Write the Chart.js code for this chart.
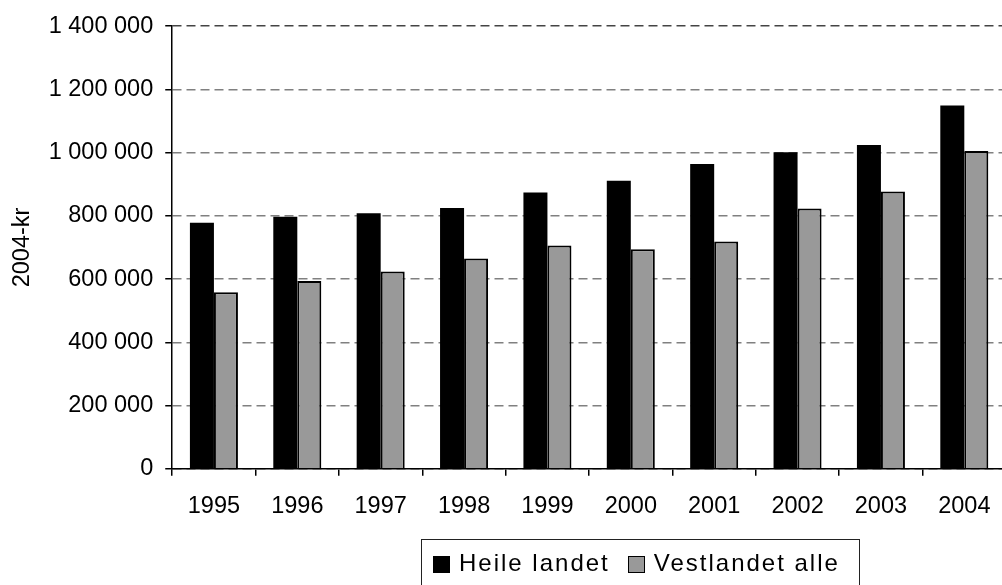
<!DOCTYPE html>
<html lang="no">
<head>
<meta charset="UTF-8">
<title>2004-kr</title>
<script src="https://cdn.jsdelivr.net/npm/chart.js"></script>
<style>
    body {
        margin: 0;
        background: #ffffff;
        overflow: hidden;
        font-family: "Liberation Sans", Arial, sans-serif;
    }
    .wrap {
        position: relative;
        width: 1002px;
        height: 585px;
        overflow: hidden;
    }
    #legend {
        position: absolute;
        left: 421px;
        top: 539px;
        width: 439px;
        height: 60px;
        border: 1px solid #222;
        box-sizing: border-box;
        display: flex;
        align-items: flex-start;
        padding: 9px 0 0 11px;
        font-size: 24px;
        letter-spacing: 2px;
        white-space: nowrap;
        color: #000;
    }
    .item {
        display: flex;
        align-items: center;
        flex-shrink: 0;
        margin-right: 18px;
    }
    .swatch {
        width: 17px;
        height: 17px;
        box-sizing: border-box;
        border: 1.5px solid #000;
        margin-right: 9px;
        margin-top: 2px;
    }
</style>
</head>
<body>
<div class="wrap">
    <canvas id="chart" width="1010" height="585"></canvas>
    <div id="legend"></div>
</div>

<script>
    const years = ['1995', '1996', '1997', '1998', '1999', '2000', '2001', '2002', '2003', '2004'];
    const heileLandet = [778000, 797000, 808000, 825000, 874000, 911000, 964000, 1001000, 1024000, 1149000];
    const vestlandetAlle = [558000, 594000, 624000, 665000, 706000, 694000, 719000, 823000, 877000, 1005000];
    const seriesNames = ['Heile landet', 'Vestlandet alle'];
    const seriesColors = ['#000000', '#999999'];
    const yTicks = [0, 200000, 400000, 600000, 800000, 1000000, 1200000, 1400000];

    const fmt = v => String(v).replace(/\B(?=(\d{3})+(?!\d))/g, ' ');
    const font = { family: '"Liberation Sans", Arial, sans-serif', size: 23.5 };

    const ctx = document.getElementById('chart').getContext('2d');
    const chart = new Chart(ctx, {
        type: 'bar',
        data: {
            labels: years,
            datasets: [heileLandet, vestlandetAlle].map((vals, i) => ({
                label: seriesNames[i],
                data: vals,
                backgroundColor: seriesColors[i],
                borderColor: '#000000',
                borderWidth: i === 0 ? 0 : 2,
                categoryPercentage: 0.576,
                barPercentage: 1
            }))
        },
        options: {
            responsive: false,
            animation: false,
            layout: { padding: { left: 8, right: 4, top: 24, bottom: 47 } },
            plugins: {
                legend: { display: false },
                tooltip: { enabled: false }
            },
            scales: {
                x: {
                    grid: {
                        offset: true,
                        drawOnChartArea: false,
                        drawTicks: true,
                        tickLength: 7,
                        tickColor: '#000000',
                        lineWidth: 1.5
                    },
                    border: { color: '#000000', width: 1.5 },
                    ticks: { color: '#000000', font: font, padding: 17, maxRotation: 0 }
                },
                y: {
                    min: 0,
                    max: yTicks[yTicks.length - 1],
                    afterBuildTicks: scale => { scale.ticks = yTicks.map(v => ({ value: v })); },
                    grid: {
                        color: ctx => ctx.tick && ctx.tick.value === yTicks[yTicks.length - 1] ? '#444444' : '#808080',
                        lineWidth: 1.5,
                        tickLength: 7,
                        tickColor: '#000000',
                        tickBorderDash: []
                    },
                    border: { color: '#000000', width: 1.5, dash: [9, 5] },
                    ticks: {
                        color: '#000000',
                        font: font,
                        padding: 12,
                        callback: v => fmt(v)
                    },
                    title: {
                        display: true,
                        text: '2004-kr',
                        color: '#000000',
                        font: font,
                        padding: { top: 0, bottom: 0.5 }
                    }
                }
            }
        }
    });

    // legend box built from the series names
    const legend = document.getElementById('legend');
    seriesNames.forEach((name, i) => {
        const item = document.createElement('div');
        item.className = 'item';
        const sw = document.createElement('span');
        sw.className = 'swatch';
        sw.style.background = seriesColors[i];
        const txt = document.createElement('span');
        txt.textContent = name;
        item.appendChild(sw);
        item.appendChild(txt);
        legend.appendChild(item);
    });
</script>
</body>
</html>
